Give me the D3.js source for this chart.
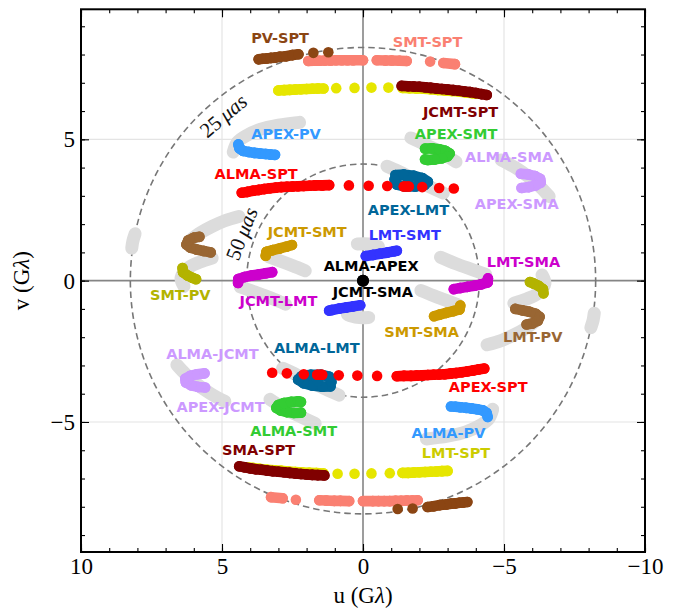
<!DOCTYPE html>
<html><head><meta charset="utf-8">
<script src="https://cdn.jsdelivr.net/npm/d3@7"></script>
<style>body{margin:0;background:#fff}svg{display:block}</style>
</head><body>
<svg id="c" width="686" height="611"></svg>
<script>
// ---------------- data ----------------
const uTicks = [10, 5, 0, -5, -10];
const vTicks = [-5, 0, 5];
const uMinor = d3.range(-10, 11, 1);
const vMinor = d3.range(-9, 10, 1);
const gridLines = [-5, 5];
const ringRadii = [8.25, 4.125];          // Gλ for 25 µas and 50 µas fringe spacing
const ringNames = ["25", "50"];
const ringLabelPos = [[4.95, 5.83], [4.3, 1.66]];

// baseline tracks (each also drawn at its Hermitian conjugate -u,-v)
const LMT_SPT = [[3.0,6.73],[2.8,6.74],[2.6,6.75],[2.4,6.76],[2.2,6.77],[2.0,6.78],[1.8,6.79],[1.6,6.8],[1.4,6.8],[0.95,6.81],[0.3,6.82],[-0.3,6.83],[-0.9,6.83],[-1.4,6.82],[-1.65,6.81],[-1.9,6.8],[-2.15,6.79],[-2.4,6.77],[-2.65,6.75],[-2.9,6.73],[-3.15,6.71],[-3.4,6.69],[-3.65,6.66],[-3.9,6.63],[-4.05,6.61]];
const SMT_SPT = [[1.94,7.77],[1.75,7.78],[1.55,7.78],[1.35,7.79],[1.15,7.79],[0.95,7.8],[0.75,7.8],[0.55,7.8],[0.35,7.8],[0.0,7.8],[-0.49,7.8],[-0.8,7.79],[-1.02,7.79],[-1.3,7.78],[-1.55,7.77],[-2.38,7.75],[-2.85,7.7],[-3.26,7.66]];
const PV_SPT = [[3.7,7.83],[3.55,7.85],[3.42,7.86],[3.27,7.88],[3.12,7.89],[2.95,7.92],[2.73,7.94],[2.5,7.98],[2.29,8.01],[1.76,8.06],[1.23,8.08]];
const JCMT_SPT = [[-1.37,6.89],[-1.6,6.88],[-1.8,6.87],[-2.0,6.86],[-2.2,6.84],[-2.4,6.82],[-2.6,6.8],[-2.8,6.78],[-3.0,6.76],[-3.2,6.74],[-3.4,6.72],[-3.6,6.69],[-3.8,6.67],[-4.0,6.64],[-4.2,6.6],[-4.39,6.57]];
const APEX_PV = [[4.42,4.82],[4.38,4.68],[4.25,4.59],[4.05,4.55],[3.85,4.52],[3.65,4.5],[3.45,4.48],[3.28,4.46],[3.12,4.45]];
const APEX_SMT = [[-2.2,4.67],[-2.45,4.68],[-2.7,4.65],[-2.92,4.59],[-3.07,4.5],[-3.0,4.4],[-2.8,4.33],[-2.55,4.29],[-2.3,4.27],[-2.2,4.29]];
const ALMA_SMA = [[-5.6,3.78],[-5.85,3.76],[-6.1,3.7],[-6.28,3.6],[-6.3,3.47],[-6.12,3.37],[-5.88,3.31],[-5.62,3.28]];
const APEX_LMT = [[-1.15,3.74],[-1.45,3.75],[-1.8,3.71],[-2.1,3.63],[-2.3,3.5],[-2.18,3.38],[-1.85,3.33],[-1.5,3.33],[-1.2,3.4],[-1.12,3.58],[-1.6,3.55]];
const ALMA_SPT = [[4.3,3.11],[4.1,3.14],[3.9,3.18],[3.7,3.21],[3.5,3.24],[3.3,3.27],[3.1,3.29],[2.9,3.31],[2.7,3.32],[2.5,3.33],[2.3,3.34],[2.1,3.35],[1.9,3.36],[1.7,3.37],[1.45,3.37],[1.2,3.38],[0.5,3.37],[-0.2,3.36],[-0.86,3.35],[-1.45,3.33],[-1.62,3.33],[-2.1,3.31],[-2.7,3.28],[-3.22,3.26]];
const LMT_SMT = [[-0.1,0.87],[-0.35,0.91],[-0.6,0.95],[-0.85,0.99],[-1.1,1.04],[-1.2,1.06]];
const JCMT_SMT = [[3.45,0.88],[3.42,1.02],[3.2,1.08],[2.95,1.14],[2.72,1.2],[2.52,1.26]];
const JCMT_LMT = [[4.43,-0.08],[4.42,0.06],[4.2,0.13],[3.95,0.18],[3.7,0.22],[3.45,0.26],[3.22,0.3]];
const SMT_PV = [[6.4,0.45],[6.38,0.3],[6.22,0.18],[6.05,0.1],[5.92,0.05]];
const LMT_PV = [[-5.4,-1.0],[-5.65,-1.05],[-5.9,-1.1],[-6.12,-1.17],[-6.26,-1.28],[-6.2,-1.42],[-6.0,-1.52],[-5.8,-1.55]];
const ALMA_APEX = [[0,0]];

// full (unobserved) tracks, grey
const GRAY_ISO = [[8.2,1.15],[8.16,1.4],[8.08,1.66]];
const GRAY_SMT_PV = [[6.35,-0.2],[6.45,0.1],[6.2,0.45],[5.8,0.65],[5.35,0.8]];
const GRAY_LMT_PV = [[-4.4,-2.27],[-4.9,-2.12],[-5.35,-1.92],[-5.75,-1.7],[-6.1,-1.45]];
const GRAY_APEX_PV = [[4.6,4.55],[4.45,4.9],[4.1,5.15],[3.65,5.35],[3.0,5.5],[2.25,5.6]];
const GRAY_APEX_SMT = [[-1.7,5.05],[-2.2,4.82],[-2.75,4.55],[-3.3,4.2]];
const GRAY_APEX_LMT = [[-0.85,4.05],[-1.3,3.85],[-1.8,3.6],[-2.35,3.33],[-2.85,3.1]];
const GRAY_ALMA_SMA = [[-4.9,4.27],[-5.4,4.0],[-5.9,3.65],[-6.3,3.3],[-6.6,2.98]];
const GRAY_LMT_SMT = [[0.2,1.3],[-0.2,1.3],[-0.55,1.2]];
const GRAY_JCMT_SMT = [[3.35,0.85],[2.95,0.7],[2.5,0.53],[2.05,0.35]];
const GRAY_JCMT_LMT = [[4.35,-0.22],[3.85,-0.4],[3.3,-0.6],[2.75,-0.83]];

const grayTracks = [GRAY_ISO, GRAY_SMT_PV, GRAY_LMT_PV, GRAY_APEX_PV, GRAY_APEX_SMT,
  GRAY_APEX_LMT, GRAY_ALMA_SMA, GRAY_LMT_SMT, GRAY_JCMT_SMT, GRAY_JCMT_LMT];

const trackData = [LMT_SPT, SMT_SPT, PV_SPT, JCMT_SPT, APEX_PV, APEX_SMT, ALMA_SMA,
  APEX_LMT, ALMA_SPT, LMT_SMT, JCMT_SMT, JCMT_LMT, SMT_PV, LMT_PV, ALMA_APEX];
const trackColors = ["#e6e600", "#fa8072", "#8b4513", "#800000", "#3399ff", "#33cc33", "#cc99ff",
  "#006699", "#ff0000", "#3333ff", "#cc9900", "#cc00cc", "#b3b300", "#996633", "#000000"];

// baseline labels: text, u, v
const labelText = ["PV-SPT","SMT-SPT","JCMT-SPT","APEX-SMT","ALMA-SMA","APEX-SMA","APEX-PV","ALMA-SPT",
  "APEX-LMT","LMT-SMT","ALMA-APEX","JCMT-SMA","JCMT-SMT","LMT-SMA","SMT-PV","JCMT-LMT","SMT-SMA",
  "LMT-PV","ALMA-JCMT","ALMA-LMT","APEX-SPT","APEX-JCMT","ALMA-SMT","SMA-SPT","ALMA-PV","LMT-SPT"];
const labelU = [2.94,-2.29,-3.46,-3.3,-5.18,-5.45,2.73,3.79,-1.61,-1.48,-0.29,-0.35,1.98,-5.69,6.48,3.0,-2.08,
  -6.02,5.34,1.64,-4.44,5.05,2.46,3.7,-3.03,-3.3];
const labelV = [8.57,8.45,5.98,5.19,4.39,2.71,5.19,3.77,2.5,1.62,0.53,-0.41,1.73,0.67,-0.51,-0.71,-1.8,
  -1.98,-2.59,-2.39,-3.78,-4.48,-5.31,-5.99,-5.4,-6.08];
const labelColors = ["#8b4513","#fa8072","#800000","#33cc33","#cc99ff","#cc99ff","#3399ff","#ff0000",
  "#006699","#3333ff","#000000","#000000","#cc9900","#cc00cc","#b3b300","#cc00cc","#cc9900",
  "#996633","#cc99ff","#006699","#ff0000","#cc99ff","#33cc33","#800000","#3399ff","#cccc00"];

// ---------------- drawing ----------------
const svg = d3.select("#c");
const x = d3.scaleLinear().domain([10, -10]).range([81, 645]);
const y = d3.scaleLinear().domain([-9.6, 9.6]).range([552, 9.3]);
const [x0, x1] = x.range(), [y0, y1] = y.range();
const kx = Math.abs(x(1) - x(0)), ky = Math.abs(y(1) - y(0));

const plot = svg.append("g");
plot.append("defs").append("clipPath").attr("id", "clip")
  .append("rect").attr("x", x0).attr("y", y1).attr("width", x1 - x0).attr("height", y0 - y1);
const inner = plot.append("g").attr("clip-path", "url(#clip)");

// grid
inner.selectAll("line.gu").data(gridLines).join("line")
  .attr("x1", d => x(d)).attr("x2", d => x(d)).attr("y1", y0).attr("y2", y1)
  .attr("stroke", "#e4e4e4").attr("stroke-width", 1.2);
inner.selectAll("line.gv").data(gridLines).join("line")
  .attr("y1", d => y(d)).attr("y2", d => y(d)).attr("x1", x0).attr("x2", x1)
  .attr("stroke", "#e4e4e4").attr("stroke-width", 1.2);
inner.append("line").attr("x1", x(0)).attr("x2", x(0)).attr("y1", y0).attr("y2", y1)
  .attr("stroke", "#858585").attr("stroke-width", 1.6);
inner.append("line").attr("y1", y(0)).attr("y2", y(0)).attr("x1", x0).attr("x2", x1)
  .attr("stroke", "#858585").attr("stroke-width", 1.6);

// rings
inner.selectAll("ellipse.ring").data(ringRadii).join("ellipse")
  .attr("cx", x(0)).attr("cy", y(0))
  .attr("rx", d => d * kx).attr("ry", d => d * ky)
  .attr("fill", "none").attr("stroke", "#777").attr("stroke-width", 1.6)
  .attr("stroke-dasharray", "6.5,4");

const conj = pts => pts.map(([u, v]) => [-u, -v]);
const line = d3.line().x(d => x(d[0])).y(d => y(d[1])).curve(d3.curveCatmullRom);

// grey tracks
grayTracks.forEach(t => {
  [t, conj(t)].forEach(p => {
    inner.append("path").attr("d", line(p)).attr("fill", "none")
      .attr("stroke", "#dcdcdc").attr("stroke-width", 13)
      .attr("stroke-linecap", "round").attr("stroke-linejoin", "round");
  });
});

// colored tracks
const R = 5.3;
trackData.forEach((t, i) => {
  const col = trackColors[i];
  [t, conj(t)].forEach(p => {
    const g = inner.append("g");
    for (let j = 1; j < p.length; j++) {
      const a = p[j - 1], b = p[j];
      const d = Math.hypot(x(a[0]) - x(b[0]), y(a[1]) - y(b[1]));
      if (d < 12) {
        g.append("line").attr("x1", x(a[0])).attr("y1", y(a[1]))
          .attr("x2", x(b[0])).attr("y2", y(b[1]))
          .attr("stroke", col).attr("stroke-width", 2 * R).attr("stroke-linecap", "round");
      }
    }
    g.selectAll("circle").data(p).join("circle")
      .attr("cx", d => x(d[0])).attr("cy", d => y(d[1]))
      .attr("r", p.length === 1 ? 6 : R).attr("fill", col);
  });
});

// ring labels
ringNames.forEach((n, i) => {
  const [u, v] = ringLabelPos[i];
  const px = x(u), py = y(v);
  const ang = Math.atan2(py - y(0), px - x(0)) * 180 / Math.PI + 90;
  const t = inner.append("text")
    .attr("transform", `translate(${px},${py}) rotate(${ang})`)
    .attr("text-anchor", "middle").attr("dominant-baseline", "central")
    .attr("font-family", "Liberation Serif, DejaVu Serif, serif").attr("font-size", 21)
    .attr("fill", "#111");
  t.append("tspan").text(n + "\u2009");
  t.append("tspan").attr("font-style", "italic").text("\u03bcas");
});

// baseline labels
inner.selectAll("text.lab").data(labelText).join("text")
  .attr("x", (d, i) => x(labelU[i])).attr("y", (d, i) => y(labelV[i]))
  .attr("text-anchor", "middle").attr("dominant-baseline", "central")
  .attr("font-family", "DejaVu Sans, sans-serif").attr("font-weight", "bold")
  .attr("font-size", 14.5).attr("fill", (d, i) => labelColors[i])
  .text(d => d);

// axes
const fmt = d3.format("d");
const axFont = "Liberation Serif, DejaVu Serif, serif";
function styleAxis(g) {
  g.select(".domain").remove();
  g.selectAll(".tick line").attr("stroke", "#000").attr("stroke-width", 1.1);
  g.selectAll("text").attr("font-family", axFont).attr("font-size", 23).attr("fill", "#000");
}
svg.append("g").attr("transform", `translate(0,${y0})`)
  .call(d3.axisBottom(x).tickValues(uMinor).tickSize(-4).tickFormat("")).call(styleAxis);
svg.append("g").attr("transform", `translate(0,${y0})`)
  .call(d3.axisBottom(x).tickValues(uTicks).tickSize(-8).tickPadding(6).tickFormat(fmt)).call(styleAxis);
svg.append("g").attr("transform", `translate(0,${y1})`)
  .call(d3.axisTop(x).tickValues(uMinor).tickSize(-4).tickFormat("")).call(styleAxis);
svg.append("g").attr("transform", `translate(0,${y1})`)
  .call(d3.axisTop(x).tickValues(uTicks).tickSize(-8).tickFormat("")).call(styleAxis);
svg.append("g").attr("transform", `translate(${x0},0)`)
  .call(d3.axisLeft(y).tickValues(vMinor).tickSize(-4).tickFormat("")).call(styleAxis);
svg.append("g").attr("transform", `translate(${x0},0)`)
  .call(d3.axisLeft(y).tickValues(vTicks).tickSize(-8).tickPadding(6).tickFormat(fmt)).call(styleAxis);
svg.append("g").attr("transform", `translate(${x1},0)`)
  .call(d3.axisRight(y).tickValues(vMinor).tickSize(-4).tickFormat("")).call(styleAxis);
svg.append("g").attr("transform", `translate(${x1},0)`)
  .call(d3.axisRight(y).tickValues(vTicks).tickSize(-8).tickFormat("")).call(styleAxis);

// frame
svg.append("rect").attr("x", x0).attr("y", y1).attr("width", x1 - x0).attr("height", y0 - y1)
  .attr("fill", "none").attr("stroke", "#000").attr("stroke-width", 2);

// axis titles
const tu = svg.append("text").attr("x", (x0 + x1) / 2).attr("y", 603)
  .attr("text-anchor", "middle").attr("font-family", axFont).attr("font-size", 23);
tu.append("tspan").text("u (G");
tu.append("tspan").attr("font-style", "italic").text("\u03bb");
tu.append("tspan").text(")");
const tv = svg.append("text").attr("transform", `translate(29,${(y0 + y1) / 2}) rotate(-90)`)
  .attr("text-anchor", "middle").attr("font-family", axFont).attr("font-size", 23);
tv.append("tspan").text("v (G");
tv.append("tspan").attr("font-style", "italic").text("\u03bb");
tv.append("tspan").text(")");
</script>
</body></html>
